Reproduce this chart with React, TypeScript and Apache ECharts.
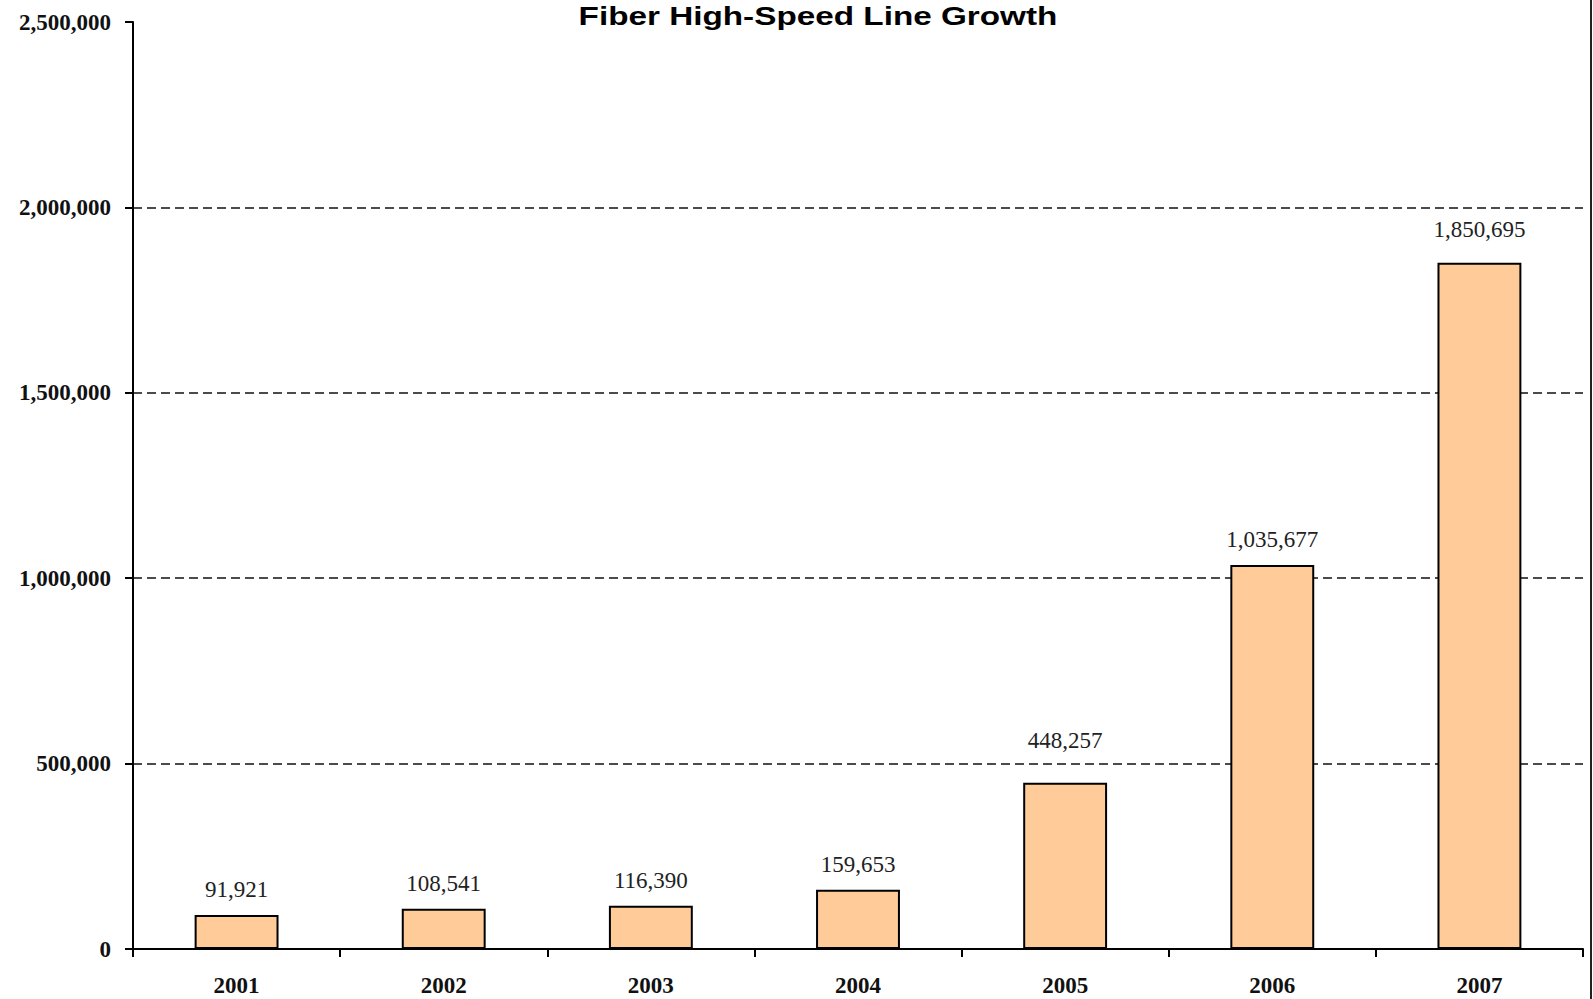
import React, { useEffect, useRef } from "react";
import * as echarts from "echarts";

const years = ["2001", "2002", "2003", "2004", "2005", "2006", "2007"];
const lines = [91921, 108541, 116390, 159653, 448257, 1035677, 1850695];
const titleText = "Fiber High-Speed Line Growth";
const yMax = 2500000;
const yStep = 500000;
// extra lift of some value labels, as placed in the reference
const labelLift: Record<string, number> = { "2005": 17, "2007": 8 };

const fmt = (v: number) => v.toLocaleString("en-US");

export default function App() {
  const ref = useRef<HTMLDivElement>(null);
  useEffect(() => {
    if (!ref.current) return;
    const chart = echarts.init(ref.current, undefined, { renderer: "svg" });
    const baseDistance = 12;
    const gridColors = ["#111", "#111", "#111", "#111", "#111", "rgba(0,0,0,0)"];
    chart.setOption({
      animation: false,
      backgroundColor: "#ffffff",
      graphic: [
        {
          type: "text",
          x: 818,
          y: 3,
          scaleX: 1.28,
          style: {
            text: titleText,
            font: "bold 26px 'Liberation Sans', Arial, sans-serif",
            lineHeight: 26,
            fill: "#000",
            textAlign: "center",
            textVerticalAlign: "top",
          },
        },
        {
          type: "line",
          shape: { x1: 1591, y1: 0, x2: 1591, y2: 999 },
          style: { stroke: "#222", lineWidth: 2 },
        },
      ],
      grid: { left: 133, right: 10, top: 22, bottom: 50, containLabel: false },
      xAxis: {
        type: "category",
        data: years,
        boundaryGap: true,
        axisLine: { show: true, lineStyle: { color: "#000", width: 2 } },
        axisTick: { show: true, alignWithLabel: false, length: 8, lineStyle: { color: "#000", width: 2 } },
        axisLabel: {
          margin: 25,
          fontFamily: "'Liberation Serif', 'Times New Roman', serif",
          fontWeight: "bold",
          fontSize: 23,
          color: "#111",
        },
        splitLine: { show: false },
      },
      yAxis: {
        type: "value",
        min: 0,
        max: yMax,
        interval: yStep,
        axisLine: { show: true, lineStyle: { color: "#000", width: 2 } },
        axisTick: { show: true, inside: false, length: 8, lineStyle: { color: "#000", width: 2 } },
        axisLabel: {
          margin: 22,
          formatter: (v: number) => fmt(v),
          fontFamily: "'Liberation Serif', 'Times New Roman', serif",
          fontWeight: "bold",
          fontSize: 23,
          color: "#111",
        },
        splitLine: {
          show: true,
          lineStyle: { color: gridColors, width: 1.6, type: [9, 5] },
        },
      },
      series: [
        {
          type: "bar",
          data: lines.map((v, i) =>
            labelLift[years[i]]
              ? { value: v, label: { distance: baseDistance + labelLift[years[i]] } }
              : v
          ),
          barWidth: "40.5%",
          itemStyle: { color: "#FFCC99", borderColor: "#000", borderWidth: 2 },
          label: {
            show: true,
            position: "top",
            distance: baseDistance,
            formatter: (p: any) => fmt(p.value),
            fontFamily: "'Liberation Serif', 'Times New Roman', serif",
            fontSize: 23,
            lineHeight: 26,
            color: "#222",
          },
        },
      ],
    });
    return () => chart.dispose();
  }, []);
  return (
    <div
      ref={ref}
      style={{ position: "fixed", left: 0, top: 0, width: 1593, height: 999, background: "#fff" }}
    />
  );
}
